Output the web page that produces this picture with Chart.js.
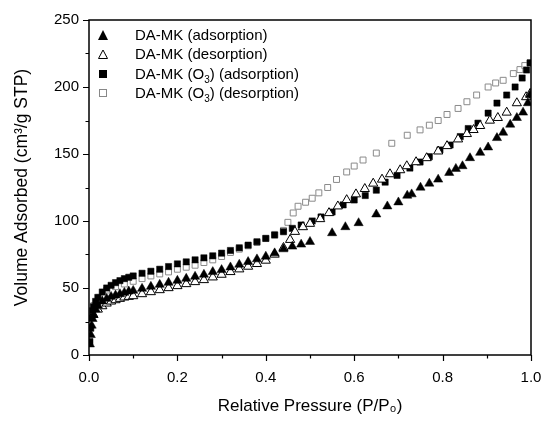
<!DOCTYPE html>
<html>
<head>
<meta charset="utf-8">
<script src="https://cdn.jsdelivr.net/npm/chart.js@4"></script>
<style>
  body { margin: 0; background: #fff; }
  #wrap { position: relative; width: 545px; height: 428px; }
  #legend { position: absolute; left: 97px; top: 25px; font: 15px "Liberation Sans", Arial, sans-serif; color: #000; }
  #legend div { height: 19.3px; line-height: 19.3px; white-space: nowrap; }
  #legend svg { vertical-align: middle; margin-right: 26px; position: relative; top: -1px; }
  #legend sub { font-size: 10px; vertical-align: -4px; line-height: 0; }
</style>
</head>
<body>
<div id="wrap">
  <canvas id="graf" width="545" height="428"></canvas>
  <div id="legend">
    <div><svg width="12" height="12"><polygon points="6,1 11,11 1,11" fill="#000"/></svg>DA-MK (adsorption)</div>
    <div><svg width="12" height="12"><polygon points="6,2 10.5,10.5 1.5,10.5" fill="#fff" stroke="#000" stroke-width="1"/></svg>DA-MK (desorption)</div>
    <div><svg width="12" height="12"><rect x="2" y="2" width="8" height="8" fill="#000"/></svg>DA-MK (O<sub>3</sub>) (adsorption)</div>
    <div><svg width="12" height="12"><rect x="2.5" y="2.5" width="7" height="7" fill="#fff" stroke="#888" stroke-width="1"/></svg>DA-MK (O<sub>3</sub>) (desorption)</div>
  </div>
</div>
<script>
const graph = document.getElementById('graf')

// DA-MK adsorption
const adsX = [0.002,0.004,0.006,0.008,0.01,0.015,0.02,0.03,0.04,0.05,0.06,0.07,0.08,0.09,0.1,0.12,0.14,0.16,0.18,0.2,0.22,0.24,0.26,0.28,0.3,0.32,0.34,0.36,0.38,0.4,0.42,0.44,0.46,0.48,0.5,0.55,0.58,0.61,0.65,0.675,0.7,0.72,0.73,0.75,0.77,0.79,0.815,0.83,0.845,0.862,0.885,0.903,0.923,0.937,0.953,0.968,0.982,0.993,0.998]
const adsY = [8,15,22,27,30,34,37,40,42,43.5,44.5,45.5,46.5,47.5,48,49.5,51,52.5,54,55.5,57,58.5,60,62,63.5,65.5,67.5,69.5,71.5,73.5,76,79,81,82.5,84.5,91,95.5,98.5,105,111,114,119,120,125,128,131,136,139,141,147,151,155,162,166,172,177,181,188,194]

// DA-MK desorption
const desX = [0.01,0.02,0.03,0.04,0.05,0.06,0.07,0.08,0.09,0.1,0.12,0.14,0.16,0.18,0.2,0.22,0.24,0.26,0.28,0.3,0.32,0.34,0.36,0.38,0.4,0.42,0.44,0.455,0.466,0.484,0.5,0.523,0.543,0.563,0.583,0.604,0.624,0.643,0.663,0.681,0.704,0.719,0.74,0.764,0.79,0.81,0.835,0.855,0.87,0.885,0.907,0.925,0.945,0.968,0.989,0.998]
const desY = [30,34,36.5,38.5,40,41,42,43,43.5,44,45.5,47,48.5,50,51.5,53,54.5,56,58,60,62,64,66,68,70.5,75,80,86,92,95.5,98,101.5,106,111,115.7,120,124,128,131,135,138,141,144,147,152,156,161,165,168,171,175,177,181,188,192.5,195]

// DA-MK (O3) adsorption
const o3AdsX = [0.002,0.004,0.006,0.008,0.01,0.015,0.02,0.03,0.04,0.05,0.06,0.07,0.08,0.09,0.1,0.12,0.14,0.16,0.18,0.2,0.22,0.24,0.26,0.28,0.3,0.32,0.34,0.36,0.38,0.4,0.42,0.44,0.46,0.48,0.505,0.525,0.55,0.575,0.6,0.625,0.65,0.67,0.697,0.726,0.749,0.77,0.794,0.817,0.84,0.858,0.88,0.903,0.923,0.945,0.964,0.98,0.99,0.998]
const o3AdsY = [10,20,28,33,36,40,43,47,50,52,54,55.5,57,58,59,61,62.5,64,66,68,69.5,71,72.5,74,76,78,80,82,84.5,87,89.5,92,94.5,97,100,103,106.7,112,115.7,119,123,129,134,139.5,144,148,153,156.7,163,169,173,180.5,188,194,200,206.7,212.7,218]

// DA-MK (O3) desorption
const o3DesX = [0.011,0.023,0.04,0.06,0.08,0.1,0.12,0.14,0.16,0.18,0.2,0.22,0.24,0.26,0.28,0.3,0.32,0.34,0.36,0.38,0.4,0.42,0.44,0.45,0.462,0.473,0.49,0.505,0.52,0.54,0.56,0.583,0.6,0.62,0.65,0.685,0.72,0.749,0.77,0.79,0.81,0.835,0.855,0.877,0.903,0.92,0.937,0.96,0.975,0.986,0.998]
const o3DesY = [37,43,48.5,51,53,55,57,59,60.5,62,64,65.5,67,69,71,73.5,76.5,79,81.5,84,87,90,93,99,106,111,114,117,121,125,131,136.6,141,145.5,150.7,158,164,168,171.5,175,179.5,184,189,194,200,203,205,210,213,216,218]

const xTicks = [0, 0.2, 0.4, 0.6, 0.8, 1.0]
const yTicks = [0, 50, 100, 150, 200, 250]

function pts(xs, ys) {
    return xs.map((x, i) => ({x: x, y: ys[i]}))
}

const font = '"Liberation Sans", Arial, sans-serif'

// box + ticks (major and minor) drawn from the scales
const frame = {
    id: 'frame',
    afterDraw(chart) {
        const ctx = chart.ctx
        const a = chart.chartArea
        const xs = chart.scales.x
        const ys = chart.scales.y
        ctx.save()
        ctx.strokeStyle = '#000'
        ctx.lineWidth = 1.5
        ctx.strokeRect(a.left, a.top, a.right - a.left, a.bottom - a.top)
        ctx.lineWidth = 1.2
        ctx.beginPath()
        for (let v = 0; v <= 1.0001; v += 0.1) {
            const px = Math.round(xs.getPixelForValue(v)) + 0.5
            const major = Math.round(v * 10) % 2 == 0
            ctx.moveTo(px, a.bottom)
            ctx.lineTo(px, a.bottom + (major ? 6 : 3.5))
        }
        for (let v = 0; v <= 250; v += 25) {
            const py = Math.round(ys.getPixelForValue(v)) + 0.5
            const major = v % 50 == 0
            ctx.moveTo(a.left, py)
            ctx.lineTo(a.left - (major ? 6 : 3.5), py)
        }
        ctx.stroke()
        ctx.restore()
    }
}

new Chart(graph, {
    type: 'scatter',
    data: {
        datasets: [
            {
                label: 'DA-MK (adsorption)',
                data: pts(adsX, adsY),
                pointStyle: 'triangle',
                pointRadius: 5.3,
                backgroundColor: '#000',
                borderColor: '#000',
                borderWidth: 0.5
            },
            {
                label: 'DA-MK (desorption)',
                data: pts(desX, desY),
                pointStyle: 'triangle',
                pointRadius: 5.3,
                backgroundColor: '#fff',
                borderColor: '#000',
                borderWidth: 1
            },
            {
                label: 'DA-MK (O3) (adsorption)',
                data: pts(o3AdsX, o3AdsY),
                pointStyle: 'rect',
                pointRadius: 4.4,
                backgroundColor: '#000',
                borderColor: '#000',
                borderWidth: 0.5
            },
            {
                label: 'DA-MK (O3) (desorption)',
                data: pts(o3DesX, o3DesY),
                pointStyle: 'rect',
                pointRadius: 4.2,
                backgroundColor: 'rgba(255,255,255,0.6)',
                borderColor: '#8a8a8a',
                borderWidth: 1
            }
        ]
    },
    options: {
        responsive: false,
        animation: false,
        layout: {padding: {top: 20, right: 14, left: 0, bottom: 0}},
        plugins: {
            legend: {display: false},
            tooltip: {enabled: false}
        },
        scales: {
            x: {
                type: 'linear',
                min: 0,
                max: 1.0,
                afterBuildTicks: (s) => { s.ticks = xTicks.map(v => ({value: v})) },
                afterFit: (s) => { s.height = 73; s.paddingLeft = 0; s.paddingRight = 0 },
                grid: {display: false, drawTicks: false},
                border: {display: false},
                ticks: {
                    padding: 14,
                    color: '#000',
                    font: {family: font, size: 15},
                    callback: (v) => v.toFixed(1)
                },
                title: {
                    display: true,
                    text: 'Relative Pressure (P/P\u2080)',
                    color: '#000',
                    font: {family: font, size: 17},
                    padding: {top: 4, bottom: 11}
                }
            },
            y: {
                type: 'linear',
                min: 0,
                max: 250,
                afterBuildTicks: (s) => { s.ticks = yTicks.map(v => ({value: v})) },
                afterFit: (s) => { s.width = 89; s.paddingTop = 0; s.paddingBottom = 0 },
                grid: {display: false, drawTicks: false},
                border: {display: false},
                ticks: {
                    padding: 10,
                    color: '#000',
                    font: {family: font, size: 15}
                },
                title: {
                    display: true,
                    text: 'Volume Adsorbed (cm\u00b3/g STP)',
                    color: '#000',
                    font: {family: font, size: 17.5},
                    padding: {top: 12, bottom: 2}
                }
            }
        }
    },
    plugins: [frame]
})
</script>
</body>
</html>
